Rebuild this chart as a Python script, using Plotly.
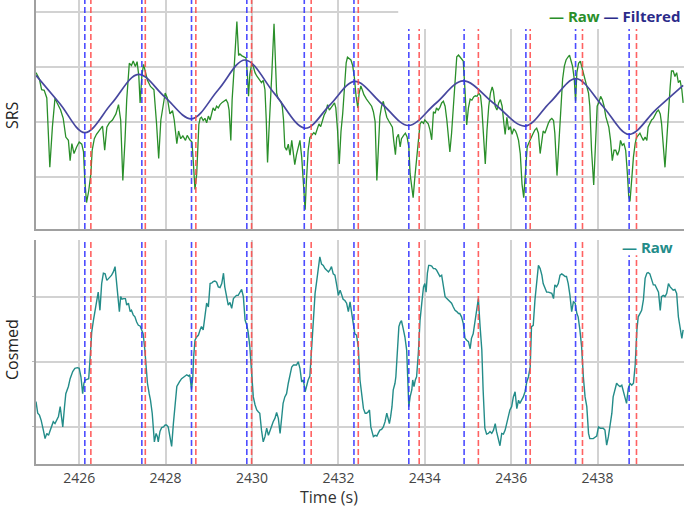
import plotly.graph_objects as go
from plotly.subplots import make_subplots

# ---------------- data ----------------
srs_time = [
 2425.00,2425.08,2425.13,2425.19,2425.25,2425.32,2425.38,2425.44,2425.49,2425.57,2425.63,2425.69,2425.75,2425.79,
 2425.83,2425.88,2425.94,2426.00,2426.06,2426.10,2426.13,2426.17,2426.22,2426.27,2426.30,2426.35,2426.40,2426.48,
 2426.54,2426.59,2426.64,2426.70,2426.77,2426.85,2426.91,2426.96,2427.01,2427.06,2427.10,2427.16,2427.21,2427.25,
 2427.30,2427.34,2427.38,2427.41,2427.45,2427.49,2427.53,2427.58,2427.65,2427.73,2427.79,2427.84,2427.89,2427.95,
 2427.99,2428.04,2428.10,2428.16,2428.20,2428.26,2428.30,2428.35,2428.40,2428.46,2428.50,2428.56,2428.61,2428.64,
 2428.68,2428.72,2428.74,2428.77,2428.80,
 2428.83,2428.87,2428.91,2428.95,2428.99,2429.03,2429.07,2429.10,2429.14,2429.18,2429.22,2429.26,2429.31,2429.36,
 2429.40,2429.44,2429.47,2429.51,2429.54,2429.58,2429.61,2429.65,2429.69,2429.72,2429.76,2429.82,2429.86,2429.89,
 2429.92,2429.95,2429.99,2430.03,2430.07,2430.11,2430.15,2430.18,2430.22,2430.26,2430.30,2430.33,2430.36,2430.39,
 2430.43,2430.46,2430.51,2430.55,2430.57,2430.60,2430.63,2430.67,2430.70,2430.73,2430.76,2430.80,2430.84,2430.88,
 2430.92,2430.96,2430.99,2431.03,2431.07,2431.11,2431.15,2431.19,2431.23,2431.26,2431.30,2431.34,2431.38,2431.43,
 2431.47,2431.50,2431.55,2431.59,2431.63,2431.67,2431.71,2431.75,2431.79,2431.83,2431.87,2431.91,2431.94,2431.98,
 2432.02,2432.06,2432.10,2432.14,2432.18,2432.21,2432.25,2432.29,2432.33,2432.37,2432.41,2432.45,2432.48,2432.52,
 2432.56,2432.59,2432.65,2432.72,2432.77,2432.81,2432.85,2432.89,2432.92,2432.96,2433.00,2433.04,2433.08,2433.12,
 2433.16,2433.21,2433.25,2433.28,2433.32,2433.35,2433.39,2433.43,2433.46,2433.51,2433.55,2433.59,2433.63,2433.66,
 2433.70,2433.73,2433.77,2433.81,2433.85,2433.89,2433.93,2433.97,2434.00,2434.04,2434.08,2434.12,2434.16,2434.20,
 2434.24,2434.27,2434.31,2434.35,2434.39,2434.43,2434.47,2434.51,2434.54,2434.58,2434.62,2434.66,2434.70,2434.74,
 2434.78,2434.81,2434.85,2434.89,2434.93,2434.97,2435.01,2435.05,2435.09,2435.13,2435.17,2435.21,2435.25,2435.29,
 2435.32,2435.36,2435.40,2435.44,2435.48,2435.52,2435.56,2435.59,2435.63,2435.67,2435.71,2435.75,2435.79,2435.83,
 2435.86,2435.90,2435.94,2435.98,2436.02,2436.06,2436.10,2436.13,2436.17,2436.21,2436.25,2436.29,2436.33,2436.37,
 2436.40,
 2436.44,2436.47,2436.51,2436.55,2436.59,2436.63,2436.67,2436.71,2436.74,2436.78,2436.82,2436.86,2436.90,2436.94,
 2436.98,2437.01,2437.06,2437.11,2437.15,2437.19,2437.23,2437.27,2437.31,2437.35,2437.38,2437.42,2437.46,2437.49,
 2437.52,2437.56,2437.60,2437.63,2437.67,2437.71,2437.75,2437.79,2437.82,2437.86,2437.91,2437.96,2437.99,2438.03,
 2438.07,2438.11,2438.15,2438.19,2438.23,2438.26,2438.30,2438.34,2438.38,2438.42,2438.46,2438.50,2438.53,2438.57,
 2438.61,2438.65,2438.69,2438.72,2438.75,2438.79,2438.83,2438.87,2438.90,2438.94,2438.98,2439.02,2439.06,2439.10,
 2439.14,2439.17,2439.21,2439.25,2439.29,2439.33,2439.37,2439.41,2439.45,2439.48,2439.52,2439.56,2439.60,2439.64,
 2439.68,2439.71,2439.75,2439.79,2439.83,2439.87,2439.91,2439.95,2439.98]
srs_raw = [
 2.89,2.77,2.58,2.57,2.43,1.17,1.91,2.43,2.34,2.21,2.06,1.72,1.66,1.29,
 1.60,1.42,1.54,1.63,1.59,1.45,0.93,0.53,0.74,1.05,1.48,1.69,1.77,1.86,
 1.92,1.48,1.90,1.98,2.03,2.14,2.31,2.03,0.93,1.66,2.40,3.06,3.02,3.10,
 3.00,3.09,2.83,2.34,2.83,3.04,2.92,2.75,2.64,2.58,1.97,1.33,2.03,2.34,
 2.52,2.43,2.14,2.20,2.03,1.60,1.83,1.69,1.74,1.66,1.75,1.67,1.63,1.29,
 0.77,1.05,1.50,1.95,2.06,
 2.08,2.02,2.06,1.98,2.10,2.03,2.18,2.25,2.20,2.28,2.25,2.31,2.35,2.37,
 2.40,2.34,2.21,1.66,2.40,2.89,3.26,3.82,3.20,3.23,3.20,3.18,3.16,2.89,
 2.46,2.86,3.04,3.00,2.89,2.83,2.78,2.74,2.71,2.75,2.58,2.03,1.26,1.79,
 2.34,2.89,3.78,3.07,2.52,2.43,2.40,2.36,2.28,2.03,1.54,1.48,1.59,1.39,
 1.66,1.42,1.22,1.40,1.54,1.66,1.36,0.93,0.40,0.93,1.48,1.71,1.75,1.80,
 1.77,1.85,1.96,1.91,2.03,2.12,2.18,2.31,2.21,2.26,2.31,2.34,2.25,1.85,
 1.23,1.82,2.15,2.61,3.07,3.17,3.15,3.12,3.02,2.80,2.46,2.25,2.52,2.65,
 2.56,2.49,2.41,2.34,2.28,2.18,2.00,0.93,1.48,2.09,2.28,2.37,2.21,2.08,
 2.02,1.94,1.90,1.66,1.40,1.71,1.77,1.54,1.69,1.75,1.79,1.72,1.54,1.05,
 0.80,0.62,0.99,1.29,1.66,1.96,2.00,1.97,2.03,1.99,1.96,1.85,1.67,2.18,
 2.15,2.25,2.21,2.26,2.34,2.37,2.28,2.03,1.72,1.45,1.79,2.28,2.89,3.18,
 3.21,3.18,3.15,3.10,2.58,1.94,2.25,2.41,2.39,2.45,2.47,2.46,2.52,2.47,
 2.25,1.72,1.23,1.85,2.28,2.52,2.63,2.55,2.28,2.21,2.34,2.40,2.28,1.97,
 1.77,2.08,1.85,1.91,1.77,1.87,1.83,1.77,1.66,1.42,0.87,0.62,1.05,1.54,
 1.60,
 1.69,1.72,1.79,1.85,1.88,1.79,1.42,1.72,1.83,1.79,1.90,1.97,2.03,2.06,
 2.02,1.79,1.02,1.66,2.28,2.77,3.01,3.12,3.17,3.21,3.12,3.01,2.77,2.37,
 2.89,3.06,3.10,3.01,2.89,2.77,2.64,2.52,2.28,1.48,0.85,1.66,2.28,2.35,
 2.46,2.40,2.28,2.09,1.97,1.90,1.66,1.29,1.48,1.48,1.39,1.48,1.66,1.57,
 1.60,1.48,1.05,0.65,0.55,0.99,1.36,1.60,1.71,1.75,1.79,1.72,1.66,1.72,
 1.66,1.90,1.97,2.03,2.06,2.12,2.18,2.21,2.14,1.97,1.54,1.17,1.66,2.28,
 2.64,2.92,2.92,2.82,2.89,2.71,2.75,2.58,2.34]

filt_time = [2425.00,2425.55,2426.13,2426.75,2427.37,2427.98,2428.60,2429.22,2429.84,2430.53,2431.23,
             2431.80,2432.38,2433.00,2433.62,2434.25,2434.89,2435.60,2436.32,2436.90,2437.50,2438.12,
             2438.73,2439.35,2439.98]
filt_vals = [2.84,2.33,1.80,2.33,2.86,2.45,2.05,2.58,3.12,2.50,1.88,
             2.30,2.73,2.33,1.93,2.33,2.74,2.33,1.92,2.35,2.78,2.28,
             1.77,2.22,2.66]

cos_time = [
 2425.00,2425.04,2425.08,2425.12,2425.17,2425.21,2425.25,2425.29,2425.32,2425.36,2425.40,2425.44,2425.48,2425.52,
 2425.56,2425.59,2425.62,2425.66,2425.69,2425.75,2425.79,2425.85,2425.90,2425.96,2426.00,2426.04,2426.08,2426.11,
 2426.14,2426.18,2426.22,2426.25,2426.29,2426.33,2426.37,2426.40,2426.44,2426.48,2426.52,2426.56,2426.60,2426.64,
 2426.67,2426.71,2426.75,2426.79,2426.83,2426.87,2426.91,2426.93,2426.96,2426.99,2427.03,2427.07,2427.10,2427.14,
 2427.18,2427.21,2427.25,2427.29,2427.33,2427.37,2427.41,2427.45,2427.48,2427.52,2427.55,2427.58,2427.62,2427.65,
 2427.69,2427.72,2427.74,2427.78,2427.81,2427.83,2427.87,2427.91,2427.95,2427.99,2428.02,2428.06,2428.10,2428.14,
 2428.18,2428.22,2428.26,2428.32,2428.37,2428.43,2428.49,2428.53,2428.56,2428.60,2428.63,2428.65,2428.68,2428.72,
 2428.76,2428.80,
 2428.83,2428.87,2428.91,2428.95,2428.99,2429.03,2429.07,2429.10,2429.14,2429.18,2429.22,2429.26,2429.30,2429.34,
 2429.37,2429.41,2429.45,2429.49,2429.53,2429.57,2429.61,2429.64,2429.68,2429.72,2429.76,2429.80,2429.84,2429.88,
 2429.91,2429.95,2429.99,2430.03,2430.07,2430.11,2430.15,2430.18,2430.22,2430.26,2430.30,2430.34,2430.38,2430.42,
 2430.45,2430.49,2430.53,2430.57,2430.61,2430.65,2430.69,2430.72,2430.76,2430.80,2430.84,2430.88,2430.92,2430.96,
 2430.99,2431.03,2431.07,2431.11,2431.15,2431.19,2431.23,2431.26,2431.30,2431.34,2431.38,2431.42,2431.46,2431.50,
 2431.53,2431.57,2431.61,2431.65,2431.69,2431.73,2431.77,2431.81,2431.84,2431.88,2431.92,2431.96,2432.00,2432.04,
 2432.08,2432.11,2432.15,2432.19,2432.23,2432.27,2432.31,2432.35,2432.38,2432.42,2432.46,2432.50,2432.54,2432.58,
 2432.62,
 2432.65,2432.69,2432.72,2432.75,2432.78,2432.81,2432.85,2432.89,2432.92,2432.96,2433.00,2433.04,2433.08,2433.12,
 2433.15,2433.18,2433.21,2433.24,2433.27,2433.31,2433.33,2433.36,2433.40,2433.43,2433.46,2433.50,2433.54,2433.58,
 2433.60,2433.63,2433.66,2433.70,2433.72,2433.75,2433.78,2433.81,2433.85,2433.89,2433.93,2433.97,2434.00,2434.03,
 2434.06,2434.09,2434.12,2434.16,2434.20,2434.24,2434.27,2434.31,2434.35,2434.39,2434.43,2434.47,2434.51,2434.54,
 2434.58,2434.62,2434.66,2434.70,2434.74,2434.78,2434.81,2434.85,2434.89,2434.93,2434.97,2435.01,2435.05,2435.08,
 2435.12,2435.16,2435.20,2435.24,2435.28,2435.32,2435.35,2435.39,2435.43,2435.47,2435.51,2435.55,2435.59,2435.63,
 2435.66,2435.70,2435.74,2435.78,2435.82,2435.86,2435.90,2435.93,2435.97,2436.01,2436.05,2436.09,2436.13,2436.17,
 2436.20,2436.24,2436.28,2436.32,2436.36,2436.40,2436.44,
 2436.47,2436.51,2436.55,2436.59,2436.63,2436.67,2436.71,2436.74,2436.78,2436.82,2436.86,2436.90,2436.94,2436.98,
 2437.01,2437.05,2437.09,2437.13,2437.17,2437.21,2437.25,2437.28,2437.32,2437.36,2437.40,2437.44,2437.48,2437.52,
 2437.55,2437.59,2437.63,2437.67,2437.71,2437.75,2437.79,2437.82,2437.86,2437.90,2437.94,2437.98,2438.02,2438.06,
 2438.09,2438.13,2438.17,2438.21,2438.25,2438.29,2438.33,2438.36,2438.40,2438.44,2438.48,2438.52,2438.56,2438.60,
 2438.63,2438.67,2438.71,2438.75,2438.79,2438.83,2438.87,2438.91,2438.94,2438.98,2439.02,2439.06,2439.10,2439.14,
 2439.17,2439.21,2439.25,2439.29,2439.33,2439.37,2439.41,2439.45,2439.48,2439.52,2439.56,2439.60,2439.64,2439.68,
 2439.71,2439.75,2439.79,2439.83,2439.87,2439.91,2439.95,2439.98]
cos_raw = [
 1.39,1.21,1.18,1.10,0.95,0.82,0.90,0.87,0.93,1.00,1.08,1.05,1.10,1.16,
 1.31,1.16,1.00,1.31,1.51,1.62,1.74,1.85,1.90,1.91,1.90,1.77,1.51,1.67,
 1.72,1.73,1.74,2.03,2.46,2.64,2.79,2.95,3.07,2.79,3.20,3.36,3.35,3.25,
 3.28,3.30,3.33,3.38,3.46,3.15,2.95,2.77,3.00,2.96,2.97,2.97,2.87,2.90,
 2.77,2.79,2.72,2.69,2.61,2.56,2.55,2.49,2.43,2.18,1.87,1.67,1.51,1.41,
 1.21,1.00,0.77,0.90,0.85,0.77,0.93,0.99,1.00,1.03,1.03,1.00,0.87,0.70,
 1.05,1.41,1.62,1.69,1.74,1.77,1.80,1.78,1.80,1.57,1.77,2.08,2.33,2.38,
 2.41,2.49,
 2.54,2.49,2.74,2.90,2.84,3.20,3.21,3.23,3.24,3.22,3.15,3.14,3.20,3.36,
 3.15,3.00,2.87,2.91,2.82,2.97,3.00,3.02,3.02,3.07,3.11,3.00,2.64,2.56,
 2.46,2.23,1.82,1.46,1.34,1.26,1.23,1.21,0.95,0.77,0.85,0.98,0.87,0.95,
 1.00,1.08,1.13,1.22,1.13,0.90,1.16,1.36,1.46,1.51,1.67,1.80,1.92,1.95,
 1.95,1.95,2.00,1.90,1.69,1.72,1.54,1.62,1.72,1.78,2.23,2.69,3.05,3.25,
 3.41,3.61,3.50,3.48,3.43,3.41,3.38,3.42,3.46,3.35,3.33,3.18,3.02,3.10,
 3.00,2.96,2.94,2.90,2.77,2.92,2.74,2.54,2.43,2.41,2.23,1.72,1.51,1.28,
 1.21,
 1.21,1.23,1.26,1.00,0.90,0.85,0.87,0.86,0.90,0.95,0.96,1.00,1.08,1.21,
 1.13,1.05,1.16,1.31,1.57,1.67,1.77,2.08,2.54,2.60,2.63,2.51,2.38,2.18,
 1.67,1.31,1.46,1.57,1.72,1.62,1.72,1.77,2.13,2.64,2.90,3.15,3.20,3.07,
 3.36,3.48,3.48,3.47,3.43,3.43,3.41,3.36,3.31,3.33,3.15,3.00,2.97,2.95,
 2.92,2.90,2.84,2.79,2.77,2.74,2.74,2.69,2.59,2.36,2.33,2.31,2.20,2.36,
 2.43,2.59,2.82,2.97,2.54,2.18,1.57,0.98,0.89,0.90,0.93,0.90,0.95,1.05,
 0.93,0.82,0.71,0.90,0.89,0.95,1.08,1.13,1.26,1.31,1.46,1.54,1.28,1.41,
 1.36,1.41,1.46,1.54,1.69,1.77,1.92,
 2.54,2.56,2.95,3.25,3.48,3.43,3.33,3.20,3.13,3.07,3.07,3.06,3.05,2.97,
 3.18,3.15,3.20,3.33,3.35,3.33,3.31,3.31,3.20,3.02,2.77,2.92,2.90,2.74,
 2.69,2.49,2.23,1.77,1.46,1.31,0.90,0.82,0.82,0.82,0.84,0.86,1.00,0.98,
 0.98,0.98,0.95,0.72,0.85,1.05,1.21,1.46,1.59,1.67,1.64,1.62,1.64,1.51,
 1.46,1.36,1.59,1.67,1.64,1.67,1.95,2.49,2.69,2.74,2.79,2.95,3.28,3.36,
 3.37,3.35,3.25,3.18,3.18,3.13,3.07,2.79,3.00,3.02,3.00,3.05,3.20,3.15,
 3.13,3.10,3.11,3.05,2.69,2.49,2.36,2.49]

blue_events = [2426.13, 2427.45, 2428.60, 2429.88, 2431.21, 2432.36, 2433.63, 2434.91, 2436.34, 2437.49, 2438.73]
red_events = [2426.27, 2427.53, 2428.70, 2429.99, 2431.37, 2432.46, 2433.87, 2435.24, 2436.44, 2437.65, 2438.90]

x_ticks = [2426, 2428, 2430, 2432, 2434, 2436, 2438]
x_range = [2425, 2440]

# ---------------- styles ----------------
FONT = "Open Sans"
GREEN = "#2a8f2a"
NAVY = "#47479f"
TEAL = "#238c89"
BLUE_D = "rgba(45,45,255,0.85)"
RED_D = "rgba(255,70,70,0.85)"
GRID = "#d2d2d2"
AXIS = "#a0a0a0"

fig = make_subplots(rows=2, cols=1, shared_xaxes=False)

fig.add_trace(go.Scatter(x=srs_time, y=srs_raw, mode="lines", name="Raw",
                         line=dict(color=GREEN, width=1.3), showlegend=False), row=1, col=1)
fig.add_trace(go.Scatter(x=filt_time, y=filt_vals, mode="lines", name="Filtered",
                         line=dict(color=NAVY, width=1.7, shape="spline", smoothing=1.0),
                         showlegend=False), row=1, col=1)
fig.add_trace(go.Scatter(x=cos_time, y=cos_raw, mode="lines", name="Raw",
                         line=dict(color=TEAL, width=1.4), showlegend=False), row=2, col=1)

shapes = []
for xr, yr in (("x", "y domain"), ("x2", "y2 domain")):
    for ev, col in ((blue_events, BLUE_D), (red_events, RED_D)):
        for t in ev:
            shapes.append(dict(type="line", xref=xr, yref=yr, x0=t, x1=t, y0=0, y1=1,
                               layer="above", line=dict(color=col, width=1.6, dash="6px,3px")))
# white legend backgrounds
shapes.append(dict(type="rect", xref="paper", yref="paper", x0=0.559, x1=1.0, y0=0.9375, y1=1.0,
                   fillcolor="white", line=dict(width=0), layer="above"))
shapes.append(dict(type="rect", xref="paper", yref="paper", x0=0.878, x1=1.0, y0=0.45, y1=0.4828,
                   fillcolor="white", line=dict(width=0), layer="above"))

axis_common = dict(showgrid=True, gridcolor=GRID, gridwidth=1.5, zeroline=False,
                   showline=True, linecolor=AXIS, linewidth=2)

fig.update_layout(
    width=685, height=510,
    margin=dict(l=36, r=1, t=0, b=46),
    paper_bgcolor="white", plot_bgcolor="white",
    font=dict(family=FONT, color="#333"),
    showlegend=False,
    shapes=shapes,
    xaxis=dict(range=x_range, tickvals=x_ticks, showticklabels=False, ticks="", **axis_common),
    xaxis2=dict(range=x_range, tickvals=x_ticks, showticklabels=True, ticks="",
                tickfont=dict(size=14, color="#444"), **axis_common),
    yaxis=dict(domain=[0.5065, 1.0], range=[0.05, 4.21], tickvals=[1, 2, 3, 4],
               showticklabels=False, ticks="", **axis_common),
    yaxis2=dict(domain=[0.0, 0.4828], range=[0.43, 3.87], tickvals=[1, 2, 3],
                showticklabels=False, ticks="outside", ticklen=2, tickcolor="#bbb", **axis_common),
    annotations=[
        dict(text="SRS", xref="paper", yref="paper", x=-0.037, y=0.752, textangle=-90,
             showarrow=False, xanchor="center", yanchor="middle", font=dict(size=16, color="#222")),
        dict(text="Cosmed", xref="paper", yref="paper", x=-0.037, y=0.2457, textangle=-90,
             showarrow=False, xanchor="center", yanchor="middle", font=dict(size=16, color="#222")),
        dict(text="Time (s)", xref="paper", yref="paper", x=(329 - 36) / 648, y=-0.0705,
             showarrow=False, xanchor="center", yanchor="middle", font=dict(size=16, color="#333")),
        dict(text=f"<b><span style='color:{GREEN}'>— Raw</span> <span style='color:#2b2b8a'>— Filtered</span></b>",
             xref="paper", yref="paper", x=(682 - 36) / 648, y=(464 - 16) / 464, showarrow=False,
             xanchor="right", yanchor="middle", font=dict(size=15)),
        dict(text=f"<b><span style='color:{TEAL}'>— Raw</span></b>",
             xref="paper", yref="paper", x=(675 - 36) / 648, y=(464 - 247) / 464, showarrow=False,
             xanchor="right", yanchor="middle", font=dict(size=15)),
    ],
)

fig.write_html("out.html", config={"displayModeBar": False},
               post_script="document.body.style.margin='0';document.body.style.overflow='hidden';")
